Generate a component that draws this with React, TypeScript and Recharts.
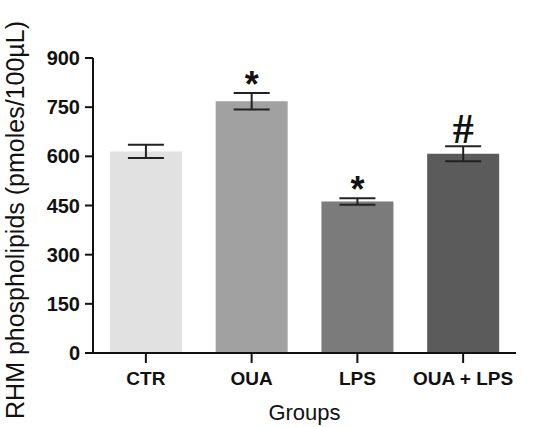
import { Bar, BarChart, Cell, ErrorBar, LabelList, XAxis, YAxis } from "recharts";

const groups = ["CTR", "OUA", "LPS", "OUA + LPS"];
const means = [615, 768, 462, 608];
const sem = [20, 25, 10, 23];
const marks = ["", "*", "*", "#"];
const fills = ["#e1e1e1", "#a1a1a1", "#7b7b7b", "#5b5b5b"];
const yTicks = [0, 150, 300, 450, 600, 750, 900];

const data = groups.map((g, i) => ({
  group: g,
  value: means[i],
  err: sem[i],
  mark: marks[i],
}));

const font = "'Liberation Sans', Arial, sans-serif";

function MarkLabel(props: any) {
  const { x, y, width, height, value, index } = props;
  if (!value) return null;
  const pxPerUnit = height / means[index];
  const top = y - sem[index] * pxPerUnit;
  const isHash = value === "#";
  return (
    <text
      x={x + width / 2}
      y={isHash ? top - 3 : top + 4}
      textAnchor="middle"
      fontFamily={isHash ? "'Liberation Serif', serif" : font}
      fontWeight={700}
      fontSize={isHash ? 42 : 36}
      fill="#111"
    >
      {value}
    </text>
  );
}

function YLabel() {
  return (
    <text
      x={24}
      y={220}
      transform="rotate(-90, 24, 220)"
      textAnchor="middle"
      fontFamily={font}
      fontSize={25}
      fill="#111"
    >
      RHM phospholipids (pmoles/100µL)
    </text>
  );
}

function XLabel(props: any) {
  const { viewBox } = props;
  return (
    <text
      x={viewBox.x + viewBox.width / 2}
      y={420}
      textAnchor="middle"
      fontFamily={font}
      fontSize={22}
      fill="#111"
    >
      Groups
    </text>
  );
}

export default function App() {
  return (
    <div style={{ position: "absolute", left: 0, top: 0, background: "#fff" }}>
      <BarChart
        width={545}
        height={427}
        data={data}
        margin={{ top: 58, right: 29, bottom: 10, left: 0 }}
        barCategoryGap="16%"
      >
        <XAxis
          dataKey="group"
          axisLine={{ stroke: "#111", strokeWidth: 2 }}
          tickLine={{ stroke: "#111", strokeWidth: 2 }}
          tickSize={10}
          height={64}
          tick={{ fill: "#111", fontSize: 19, fontWeight: 700, fontFamily: font }}
          tickMargin={9}
          label={<XLabel />}
        />
        <YAxis
          domain={[0, 900]}
          ticks={yTicks}
          width={93}
          axisLine={{ stroke: "#111", strokeWidth: 2 }}
          tickLine={{ stroke: "#111", strokeWidth: 2 }}
          tickSize={8}
          tickMargin={5}
          tick={{ fill: "#111", fontSize: 20, fontWeight: 700, fontFamily: font }}
          label={<YLabel />}
        />
        <Bar dataKey="value" isAnimationActive={false}>
          {data.map((d, i) => (
            <Cell key={d.group} fill={fills[i]} />
          ))}
          <ErrorBar dataKey="err" width={18} stroke="#222" strokeWidth={2} />
          <LabelList dataKey="mark" content={MarkLabel} />
        </Bar>
      </BarChart>
    </div>
  );
}
